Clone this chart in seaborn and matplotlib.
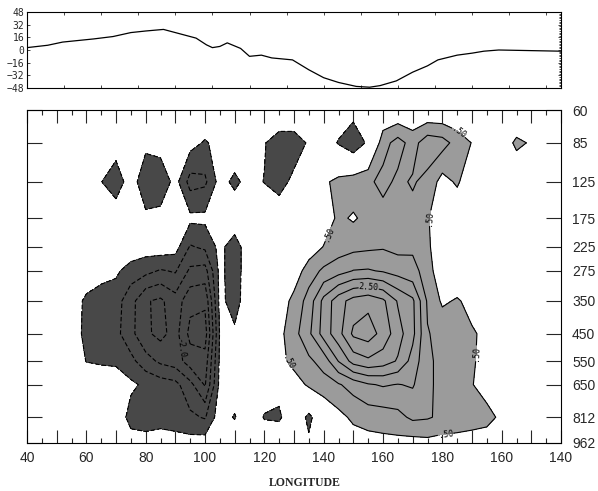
import numpy as np
import matplotlib
matplotlib.use("Agg")
import matplotlib.pyplot as plt
from matplotlib.ticker import MultipleLocator
import seaborn as sns

# ---- upper strip: profile along the section (longitude, value) ----
strip_lon = [40, 47, 52, 62.5, 69, 75, 80, 86, 91, 97, 100.5, 102.5, 105, 107.5,
             112, 115, 119, 122.5, 129.5, 135, 140, 145, 151, 155.5, 159, 164.5,
             170, 175, 178.5, 185, 190, 194, 199, 206, 220]
strip_val = [3, 6, 10, 14, 17, 22, 24, 26, 21, 15, 6.5, 3, 4.5, 9,
             2, -8, -6.5, -10, -12.5, -25, -35, -41, -46, -47, -45, -39,
             -28, -20, -12.5, -6.5, -4, -1.5, 0, -0.5, -1.5]

# ---- cross section: longitude (40E .. 140W as 220) x pressure level ----
lons = np.arange(40, 221, 5)
levels_hpa = [60, 85, 125, 175, 225, 275, 350, 450, 550, 650, 812, 962]

#          40    45    50    55    60    65    70    75    80    85
row_60 = [0.0, 0.0, 0.0, 0.0, 0.0, 0.0, 0.0, 0.0, 0.0, 0.0,
          0.0, 0.0, 0.0, 0.0, 0.0, 0.0, 0.1, 0.25, 0.25, 0.1,
          0.0, -0.1, -0.24, -0.1, 0.0, 0.0, 0.0, 0.0, 0.0, 0.0,
          0.0, 0.0, 0.0, 0.0, 0.0, 0.0, 0.0]
row_85 = [0.0, 0.0, 0.0, 0.0, -0.05, -0.1, -0.16, -0.1, -0.32, -0.25,
          -0.1, -0.3, -0.56, -0.3, -0.1, -0.1, -0.45, -0.9, -0.9, -0.4,
          -0.1, -0.55, -0.95, -0.38, 0.8, 1.2, 0.8, 1.3, 1.2, 0.8,
          0.48, 0.1, 0.2, 0.6, 0.45, 0.1, 0.0]
row_125 = [0.0, 0.0, 0.05, 0.0, -0.1, -0.48, -0.9, -0.14, -0.98, -0.9,
           -0.3, -1.2, -1.1, -0.3, -0.62, -0.3, -0.52, -0.8, -0.3, 0.1,
           0.4, 0.65, 0.8, 0.9, 1.15, 0.9, 1.05, 0.86, 0.3, 0.58,
           0.1, 0.05, 0.05, 0.1, 0.05, 0.0, 0.0]
row_175 = [0.0, 0.0, 0.0, 0.0, -0.05, -0.05, -0.05, -0.15, -0.35, -0.3,
           -0.2, -0.38, -0.38, -0.15, -0.1, -0.05, 0.0, 0.0, 0.0, 0.0,
           0.2, 0.6, 0.44, 0.65, 0.8, 0.8, 0.85, 0.55, 0.1, 0.05,
           0.0, 0.0, 0.0, 0.0, 0.0, 0.0, 0.0]
row_225 = [0.0, 0.0, 0.0, 0.0, 0.0, -0.05, -0.1, -0.1, -0.25, -0.2,
           -0.3, -1.05, -0.9, -0.35, -0.8, -0.1, 0.0, 0.05, 0.1, 0.2,
           0.52, 0.75, 0.85, 0.9, 0.95, 0.85, 0.92, 0.6, 0.1, 0.05,
           0.0, 0.0, 0.0, 0.0, 0.0, 0.0, 0.0]
row_275 = [0.0, 0.0, 0.0, -0.05, 0.0, -0.3, -0.4, -0.75, -0.85, -1.05,
           -0.95, -1.6, -1.7, -0.35, -0.8, -0.1, 0.0, 0.05, 0.2, 0.75,
           1.1, 1.3, 1.52, 1.55, 1.45, 1.3, 1.15, 0.8, 0.0, 0.1,
           0.05, 0.0, 0.0, 0.0, 0.0, 0.0, 0.0]
row_350 = [0.0, 0.0, -0.05, -0.1, -0.65, -0.75, -0.8, -1.3, -1.95, -2.1,
           -1.7, -2.35, -2.4, -0.35, -0.75, -0.1, 0.0, 0.2, 0.65, 1.2,
           2.15, 2.8, 3.2, 3.35, 3.1, 2.45, 2.1, 0.93, 0.42, 0.55,
           0.35, 0.1, 0.0, 0.0, 0.0, 0.0, 0.0]
row_450 = [0.0, 0.0, -0.05, -0.1, -0.7, -0.8, -0.85, -1.35, -1.9, -2.15,
           -1.8, -2.65, -2.75, -0.45, -0.4, 0.0, 0.1, 0.35, 0.82, 1.39,
           2.21, 2.82, 3.6, 3.75, 3.32, 2.71, 2.14, 1.03, 0.85, 0.7,
           0.55, 0.4, 0.1, 0.0, 0.0, 0.0, 0.0]
row_550 = [0.0, 0.0, 0.0, -0.05, -0.52, -0.6, -0.65, -0.85, -1.3, -1.6,
           -1.75, -2.25, -2.3, -0.4, -0.1, 0.0, 0.05, 0.3, 0.7, 0.9,
           1.2, 2.02, 2.7, 2.9, 2.75, 2.45, 1.8, 1.1, 0.85, 0.75,
           0.55, 0.35, 0.1, 0.0, 0.0, 0.0, 0.0]
row_650 = [0.0, 0.0, 0.0, 0.0, 0.0, 0.0, 0.0, -0.4, -0.6, -0.75,
           -0.85, -1.35, -2.05, -0.35, -0.1, 0.0, -0.1, -0.3, 0.2, 0.6,
           0.8, 0.95, 1.2, 1.45, 1.55, 1.48, 1.55, 1.1, 0.85, 0.7,
           0.52, 0.3, 0.1, 0.0, 0.0, 0.0, 0.0]
row_812 = [0.0, 0.0, 0.0, 0.0, 0.0, -0.05, -0.1, -0.7, -0.75, -0.7,
           -0.8, -0.9, -1.05, -0.2, -0.55, 0.0, -0.55, -0.6, 0.0, -0.65,
           0.0, 0.35, 0.6, 0.72, 0.75, 0.85, 1.1, 1.05, 0.9, 0.8,
           0.7, 0.65, 0.4, 0.1, 0.0, 0.0, 0.0]
row_962 = [0.0, 0.0, 0.0, 0.0, 0.0, 0.0, 0.0, -0.25, -0.3, -0.25,
           -0.25, -0.3, -0.25, -0.1, 0.0, 0.0, 0.0, 0.0, 0.0, -0.4,
           0.0, 0.1, 0.25, 0.3, 0.35, 0.35, 0.3, 0.35, 0.3, 0.3,
           0.3, 0.25, 0.1, 0.0, 0.0, 0.0, 0.0]

pos_levels = [0.5, 1.0, 1.5, 2.0, 2.5, 3.0, 3.5]
neg_levels = [-3.0, -2.5, -2.0, -1.5, -1.0, -0.5]
label_text = {0.5: ".50", 2.5: "2.50", -2.0: "-2.0"}
# where each contour label sits: (longitude, pressure level)
label_at = {0.5: [(186, 75), (175.5, 175), (143.5, 205), (127.5, 560),
                  (191.5, 520), (181, 890)],
            2.5: [(155, 320)],
            -2.0: [(92.5, 500)]}


def height_km(p):
    # standard atmosphere height, used as the vertical axis scale
    return 44.33 * (1.0 - (np.asarray(p, dtype=float) / 1013.25) ** 0.190263)


def lon_label(lon):
    return str(lon if lon <= 180 else 360 - lon)


def main():
    sns.set_style("ticks")
    plt.rcParams["font.family"] = ["Liberation Sans", "DejaVu Sans"]

    fig = plt.figure(figsize=(5.98, 4.91), dpi=100)
    W, H = 598.0, 491.0

    # ---------- top strip ----------
    ax_top = fig.add_axes([27 / W, 1 - 88 / H, 534 / W, 76 / H])
    sns.lineplot(x=strip_lon, y=strip_val, ax=ax_top, color="black",
                 linewidth=0.9, legend=False)
    ax_top.set_xlim(40, 220)
    ax_top.set_ylim(-48, 48)
    ax_top.set_yticks([48, 32, 16, 0, -16, -32, -48])
    ax_top.set_xticks(np.arange(40, 221, 12.5))
    ax_top.yaxis.set_minor_locator(MultipleLocator(2))
    ax_top.tick_params(axis="x", direction="in", length=2.5, width=0.6,
                       top=True, bottom=True, labelbottom=False)
    ax_top.tick_params(axis="y", which="major", direction="in", length=2,
                       width=0.6, left=True, right=True, labelsize=7, pad=2)
    ax_top.tick_params(axis="y", which="minor", direction="in", length=1.5,
                       width=0.6, left=False, right=True)
    for lab in ax_top.get_yticklabels():
        lab.set_family("DejaVu Sans Mono")
    ax_top.set_xlabel("")
    ax_top.set_ylabel("")
    for sp in ax_top.spines.values():
        sp.set_linewidth(0.8)
        sp.set_color("black")

    # ---------- cross section ----------
    ax = fig.add_axes([27 / W, 1 - 443 / H, 534 / W, 333 / H])
    field = np.array([row_60, row_85, row_125, row_175, row_225, row_275,
                      row_350, row_450, row_550, row_650, row_812, row_962])
    z = height_km(levels_hpa)
    field = field[::-1]
    zz = z[::-1]

    ax.contourf(lons, zz, field, levels=[-99, -0.5, 0.5, 99],
                colors=["#484848", (1, 1, 1, 0), "#9b9b9b"])

    texts = []
    for lev in neg_levels + pos_levels:
        style = "solid" if lev > 0 else (0, (4, 2))
        cs = ax.contour(lons, zz, field, levels=[lev], colors="black",
                        linewidths=0.8, linestyles=[style])
        if lev in label_text:
            spots = [(x, float(height_km(p))) for x, p in label_at[lev]]
            texts += cs.clabel(fmt={lev: label_text[lev]}, fontsize=6,
                               inline=True, inline_spacing=2, manual=spots)
    for t in texts:
        t.set_family("DejaVu Sans Mono")

    ax.set_xlim(40, 220)
    ax.set_ylim(z[-1], z[0])
    major_lon = list(range(40, 221, 10))
    ax.set_xticks(major_lon)
    ax.set_xticklabels([lon_label(l) if (l - 40) % 20 == 0 else "" for l in major_lon])
    ax.xaxis.set_minor_locator(MultipleLocator(5))
    ax.tick_params(axis="x", which="major", direction="in", length=9.5,
                   width=0.8, top=True, bottom=True, labelsize=10, pad=6)
    ax.tick_params(axis="x", which="minor", direction="in", length=3.5,
                   width=0.8, top=True, bottom=True)
    ax.set_yticks(z)
    ax.set_yticklabels([str(p) for p in levels_hpa])
    ax.tick_params(axis="y", which="major", direction="in", length=10.5,
                   width=0.8, left=True, right=True, labelleft=False,
                   labelright=True, labelsize=10, pad=8)
    ax.tick_params(axis="y", which="minor", left=False, right=False)
    for sp in ax.spines.values():
        sp.set_linewidth(0.8)
        sp.set_color("black")
        sp.set_visible(True)

    fig.text(305 / W, 1 - 483 / H, "LONGITUDE", ha="center", va="center",
             fontsize=8.5, fontweight="bold",
             family=["Liberation Serif", "DejaVu Serif"])

    fig.savefig("out.png", dpi=100)


if __name__ == "__main__":
    main()
